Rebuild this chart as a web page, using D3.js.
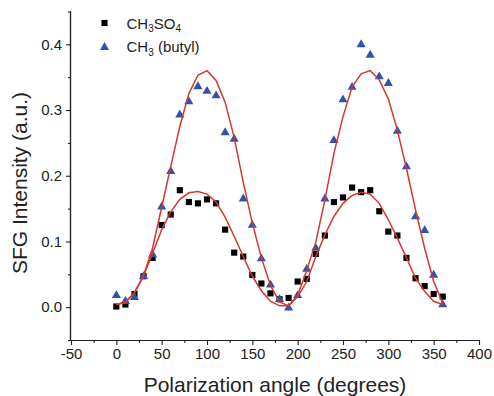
<!DOCTYPE html>
<html><head><meta charset="utf-8">
<script src="https://cdn.jsdelivr.net/npm/d3@7"></script>
<style>
html,body{margin:0;padding:0;background:#fff;}
svg{display:block;font-family:"Liberation Sans",Arial,Helvetica,sans-serif;}
</style></head>
<body>
<svg id="chart" width="494" height="396"></svg>
<script>
// Polarization angles (degrees)
const angles = [0,10,20,30,40,50,60,70,80,90,100,110,120,130,140,150,160,170,180,
  190,200,210,220,230,240,250,260,270,280,290,300,310,320,330,340,350,360];
// CH3SO4 (black squares)
const ch3so4 = [0.001,0.004,0.020,0.047,0.075,0.125,0.141,0.178,0.160,0.158,0.164,0.158,0.118,0.083,0.077,0.049,0.036,0.021,0.012,
  0.014,0.039,0.043,0.081,0.109,0.160,0.167,0.182,0.175,0.178,0.146,0.115,0.109,0.075,0.044,0.032,0.020,0.016];
// CH3 (butyl) (blue triangles)
const butyl = [0.019,0.010,0.016,0.048,0.081,0.154,0.208,0.294,0.314,0.337,0.330,0.323,0.267,0.257,0.166,0.126,0.075,0.035,0.013,
  0.000,0.019,0.059,0.091,0.166,0.255,0.317,0.336,0.401,0.385,0.352,0.342,0.269,0.215,0.139,0.118,0.050,0.005];
// Fit curves (red lines)
const fitSO4 = [0.004,0.008,0.022,0.048,0.082,0.118,0.145,0.164,0.174,0.176,0.172,0.160,0.137,0.108,0.077,0.047,0.025,0.009,0.002,
  0.002,0.016,0.039,0.077,0.110,0.138,0.158,0.170,0.175,0.172,0.158,0.133,0.105,0.075,0.044,0.024,0.009,0.004];
const fitButyl = [0.004,0.007,0.022,0.048,0.090,0.152,0.214,0.275,0.325,0.353,0.360,0.345,0.312,0.258,0.190,0.128,0.075,0.033,0.008,
  0.002,0.018,0.056,0.099,0.163,0.234,0.290,0.335,0.355,0.360,0.346,0.317,0.269,0.211,0.148,0.090,0.039,0.006];
// Axis ticks
const xTicks = [-50,0,50,100,150,200,250,300,350,400];
const xMinor = [-25,25,75,125,175,225,275,325,375];
const yTicks = [0.0,0.1,0.2,0.3,0.4];
const yMinor = [-0.05,0.05,0.15,0.25,0.35,0.45];

const svg = d3.select("#chart");
const x = d3.scaleLinear().domain([-50,400]).range([71,479]);
const y = d3.scaleLinear().domain([-0.05,0.45]).range([340,11.5]);

const blue = "#2f52aa", red = "#d6372e";

// Axes
const gx = svg.append("g").attr("transform","translate(0,340)");
gx.call(d3.axisBottom(x).tickValues(xTicks).tickSize(5).tickPadding(3).tickFormat(d=>String(d)));
gx.append("g").call(d3.axisBottom(x).tickValues(xMinor).tickSize(3).tickFormat(""));
const gy = svg.append("g").attr("transform","translate(71,0)");
gy.call(d3.axisLeft(y).tickValues(yTicks).tickSize(5).tickPadding(4).tickFormat(d=>d.toFixed(1)));
gy.append("g").call(d3.axisLeft(y).tickValues(yMinor).tickSize(3).tickFormat(""));
svg.selectAll(".domain").attr("stroke","#222").attr("stroke-width",1.2);
svg.selectAll(".tick line").attr("stroke","#222").attr("stroke-width",1.1);
svg.selectAll(".tick text").attr("font-size",15).attr("fill","#222")
  .attr("font-family","'Liberation Sans',Arial,sans-serif");
gx.selectAll(".domain").attr("d","M71.5,0.5H479");
gy.selectAll(".domain").attr("d","M-0.5,11.5V340");

// Axis titles
svg.append("text").attr("x",275).attr("y",392).attr("text-anchor","middle")
  .attr("font-size",21).attr("fill","#222").text("Polarization angle (degrees)");
svg.append("text").attr("transform","translate(27,183) rotate(-90)").attr("text-anchor","middle")
  .attr("font-size",21).attr("fill","#222").text("SFG Intensity (a.u.)");

const pts = angles.map((a,i)=>({a, s:ch3so4[i], b:butyl[i], fs:fitSO4[i], fb:fitButyl[i]}));

// Markers
const sq = d3.symbol().type(d3.symbolSquare).size(38);
const tri = d3.symbol().type(d3.symbolTriangle).size(36);
svg.append("g").selectAll("path").data(pts).join("path")
  .attr("d",sq).attr("transform",d=>`translate(${x(d.a)},${y(d.s)})`).attr("fill","#000");
svg.append("g").selectAll("path").data(pts).join("path")
  .attr("d",tri).attr("transform",d=>`translate(${x(d.a)},${y(d.b)+0.8})`).attr("fill",blue);

// Fit lines
const lineS = d3.line().x(d=>x(d.a)).y(d=>y(d.fs)).curve(d3.curveLinear);
const lineB = d3.line().x(d=>x(d.a)).y(d=>y(d.fb)).curve(d3.curveLinear);
svg.append("path").datum(pts).attr("d",lineS).attr("fill","none").attr("stroke",red).attr("stroke-width",1.5);
svg.append("path").datum(pts).attr("d",lineB).attr("fill","none").attr("stroke",red).attr("stroke-width",1.5);

// Legend
const legend = [{name:["CH","3","SO","4"], type:"sq", yc:23},{name:["CH","3"," (butyl)"], type:"tri", yc:46.5}];
legend.forEach(l=>{
  svg.append("path").attr("d", l.type==="sq"?sq():tri())
    .attr("transform",`translate(104.5,${l.yc+(l.type==="tri"?0.8:0)})`)
    .attr("fill", l.type==="sq"?"#000":blue);
  const t = svg.append("text").attr("x",126.5).attr("y",l.yc+5.5).attr("font-size",15).attr("fill","#222");
  l.name.forEach((s,i)=>{
    const sub = i%2===1;
    t.append("tspan").attr("font-size",sub?10:15).attr("dy",sub?3.5:(i>0?-3.5:0)).text(s);
  });
});
</script>
</body></html>
